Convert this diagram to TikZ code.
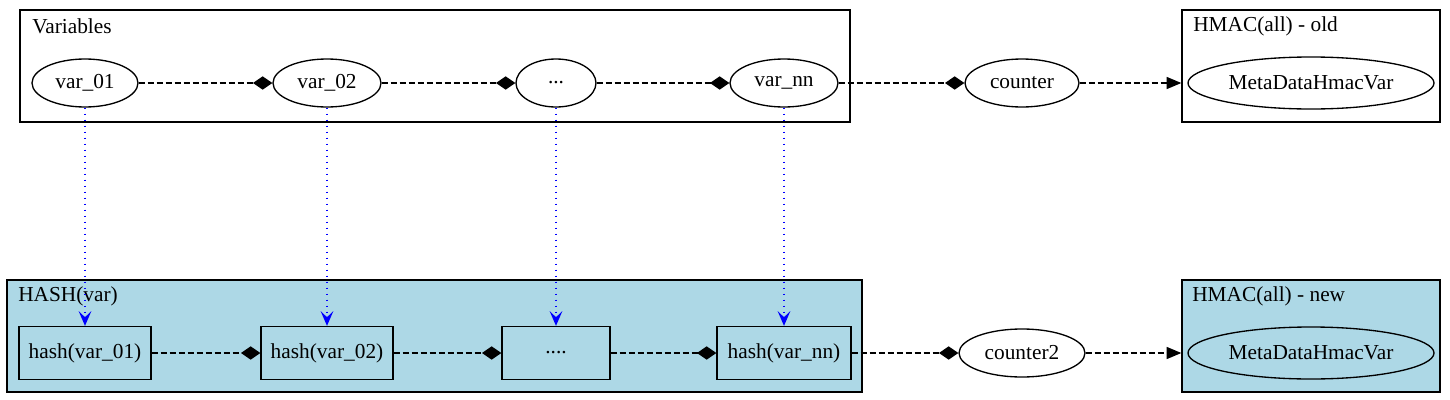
\documentclass[tikz,border=0pt]{standalone}
\usepackage{fontspec}
\setmainfont{Liberation Serif}
\usetikzlibrary{shapes.geometric,arrows.meta}
\definecolor{lblue}{HTML}{ADD8E6}
\begin{document}
\begin{tikzpicture}[x=0.75pt,y=-0.75pt,
  every node/.style={font=\fontsize{16}{18}\selectfont},
  ell/.style={draw,ellipse,line width=1pt,inner sep=0pt,minimum height={48*0.75pt}},
  hbox/.style={draw,rectangle,line width=1pt,inner sep=0pt,minimum height={53*0.75pt}},
  clus/.style={draw,rectangle,line width=1pt,inner sep=0pt,minimum height={112*0.75pt}},
  clab/.style={anchor=west,inner sep=0pt},
  dlink/.style={line width=1pt,dash pattern=on 4.5pt off 2.25pt,-{Diamond[length=14.5pt,width=10pt]}},
  tlink/.style={line width=1pt,dash pattern=on 4.5pt off 2.25pt,-{Triangle[length=11pt,width=9pt]}},
  blink/.style={blue,line width=1pt,dash pattern=on 0.75pt off 3.75pt,-{Stealth[length=11pt,width=9.5pt,inset=4.5pt]}}
]
\useasboundingbox (0,0) rectangle (1450,400);
% clusters
\node[clus,minimum width={830*0.75pt}] (cvar) at (435,66) {};
\node[clus,minimum width={258*0.75pt}] (cold) at (1311,66) {};
\node[clus,fill=lblue,minimum width={855*0.75pt}] (chash) at (434.5,336) {};
\node[clus,fill=lblue,minimum width={258*0.75pt}] (cnew) at (1311,336) {};
\node[clab] (lvar) at (32,26) {Variables};
\node[clab] (lold) at (1193,26) {HMAC(all) - old};
\node[clab] (lhash) at (18,296) {HASH(var)};
\node[clab] (lnew) at (1192,296) {HMAC(all) - new};
% top nodes
\node[ell,minimum width={106*0.75pt}] (v1) at (85,83) {var\_01};
\node[ell,minimum width={108*0.75pt}] (v2) at (327,83) {var\_02};
\node[ell,minimum width={80*0.75pt}] (v3) at (556,83) {...};
\node[ell,minimum width={108*0.75pt}] (vn) at (784,83) {var\_nn};
\node[ell,minimum width={114*0.75pt}] (c1) at (1022,83) {counter};
\node[ell,minimum width={246*0.75pt},minimum height={52*0.75pt}] (m1) at (1311,83) {MetaDataHmacVar};
% bottom nodes
\node[hbox,minimum width={132*0.75pt}] (h1) at (85,353) {hash(var\_01)};
\node[hbox,minimum width={132*0.75pt}] (h2) at (327,353) {hash(var\_02)};
\node[hbox,minimum width={108*0.75pt}] (h3) at (556,353) {....};
\node[hbox,minimum width={134*0.75pt}] (hn) at (784,353) {hash(var\_nn)};
\node[ell,fill=white,minimum width={126*0.75pt}] (c2) at (1022,353) {counter2};
\node[ell,fill=lblue,minimum width={246*0.75pt},minimum height={52*0.75pt}] (m2) at (1311,353) {MetaDataHmacVar};
% edges
\draw[dlink] (v1) -- (v2);
\draw[dlink] (v2) -- (v3);
\draw[dlink] (v3) -- (vn);
\draw[dlink] (vn) -- (c1);
\draw[tlink] (c1) -- (c1 -| cold.west);
\draw[dlink] (h1) -- (h2);
\draw[dlink] (h2) -- (h3);
\draw[dlink] (h3) -- (hn);
\draw[dlink] (hn) -- (c2);
\draw[tlink] (c2) -- (c2 -| cnew.west);
\draw[blink] (v1) -- (h1);
\draw[blink] (v2) -- (h2);
\draw[blink] (v3) -- (h3);
\draw[blink] (vn) -- (hn);
\end{tikzpicture}
\end{document}
